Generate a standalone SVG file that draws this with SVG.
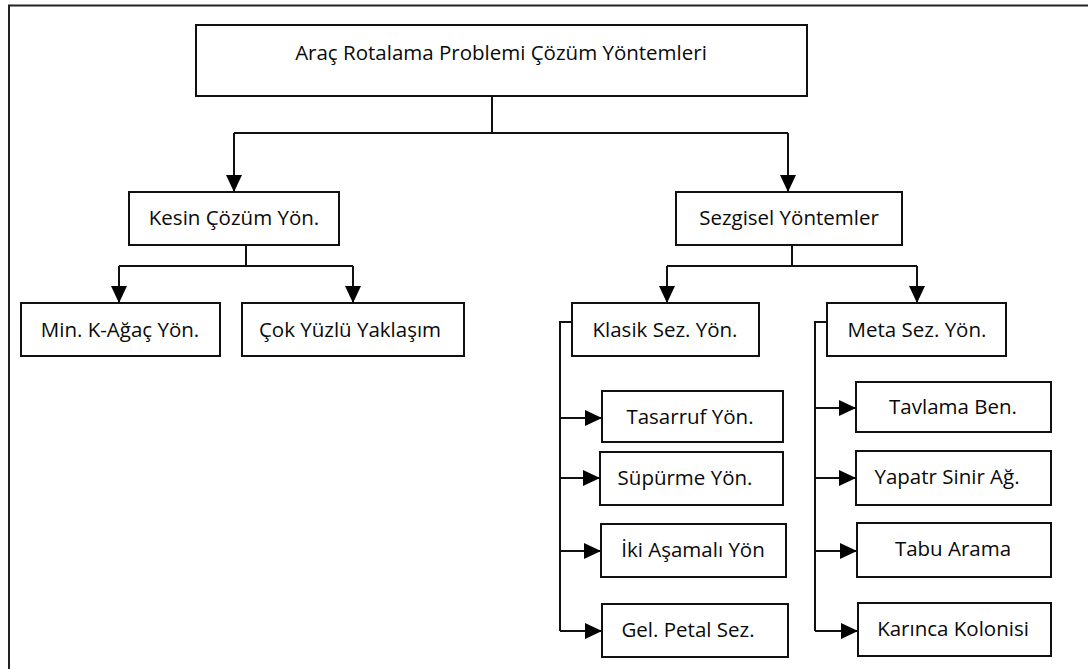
<svg xmlns="http://www.w3.org/2000/svg" width="1088" height="669" viewBox="0 0 1088 669">
<style>
.box{fill:#fff;stroke:#111;stroke-width:2}
.lbl{font-family:"Open Sans",Lato,sans-serif;font-size:20.5px;fill:#0a0a0a;text-anchor:middle}
.con{fill:none;stroke:#111;stroke-width:2}
</style>
<defs>
<marker id="ah" markerUnits="userSpaceOnUse" markerWidth="18" markerHeight="18" refX="17" refY="8" orient="auto">
<path d="M0,0 L17,8 L0,16 Z" fill="#000"/>
</marker>
</defs>
<rect width="1088" height="669" fill="#fff"/>
<path d="M9,669 V5.5 H1088" fill="none" stroke="#222" stroke-width="2"/>
<g id="connectors">
<path class="con" d="M492,96 V133 M234,133 H788"/>
<path class="con" d="M234,133 V192" marker-end="url(#ah)"/>
<path class="con" d="M788,133 V192" marker-end="url(#ah)"/>
<path class="con" d="M246,245 V266 M119,266 H353"/>
<path class="con" d="M119,266 V303" marker-end="url(#ah)"/>
<path class="con" d="M353,266 V303" marker-end="url(#ah)"/>
<path class="con" d="M792,245 V266 M667,266 H917"/>
<path class="con" d="M667,266 V303" marker-end="url(#ah)"/>
<path class="con" d="M917,266 V303" marker-end="url(#ah)"/>
<path class="con" d="M572,322 H560 V631"/>
<path class="con" d="M560,418 H602" marker-end="url(#ah)"/>
<path class="con" d="M560,478 H600" marker-end="url(#ah)"/>
<path class="con" d="M560,551 H601" marker-end="url(#ah)"/>
<path class="con" d="M560,631 H602" marker-end="url(#ah)"/>
<path class="con" d="M827,322 H815 V631"/>
<path class="con" d="M815,408 H856" marker-end="url(#ah)"/>
<path class="con" d="M815,478 H856" marker-end="url(#ah)"/>
<path class="con" d="M815,551 H857" marker-end="url(#ah)"/>
<path class="con" d="M815,631 H858" marker-end="url(#ah)"/>
</g>
<g id="root"><rect class="box" x="196" y="25" width="611" height="71"/><text class="lbl" x="501" y="60">Araç Rotalama Problemi Çözüm Yöntemleri</text></g>
<g id="kesin"><rect class="box" x="129" y="192" width="210" height="53"/><text class="lbl" x="234" y="225">Kesin Çözüm Yön.</text></g>
<g id="sezgisel"><rect class="box" x="676" y="192" width="226" height="53"/><text class="lbl" x="789" y="225">Sezgisel Yöntemler</text></g>
<g id="mink"><rect class="box" x="21" y="303" width="199" height="53"/><text class="lbl" x="120" y="337">Min. K-Ağaç Yön.</text></g>
<g id="cokyuzlu"><rect class="box" x="242" y="303" width="222" height="53"/><text class="lbl" x="350" y="337">Çok Yüzlü Yaklaşım</text></g>
<g id="klasik"><rect class="box" x="572" y="303" width="187" height="53"/><text class="lbl" x="665" y="337">Klasik Sez. Yön.</text></g>
<g id="meta"><rect class="box" x="827" y="303" width="179" height="53"/><text class="lbl" x="917" y="337">Meta Sez. Yön.</text></g>
<g id="tasarruf"><rect class="box" x="602" y="391" width="181" height="51"/><text class="lbl" x="690" y="424">Tasarruf Yön.</text></g>
<g id="supurme"><rect class="box" x="600" y="452" width="183" height="53"/><text class="lbl" x="685" y="485">Süpürme Yön.</text></g>
<g id="iki"><rect class="box" x="601" y="524" width="185" height="53"/><text class="lbl" x="693" y="557">İki Aşamalı Yön</text></g>
<g id="gel"><rect class="box" x="602" y="604" width="186" height="53"/><text class="lbl" x="688" y="637">Gel. Petal Sez.</text></g>
<g id="tavlama"><rect class="box" x="856" y="382" width="195" height="50"/><text class="lbl" x="953" y="414">Tavlama Ben.</text></g>
<g id="yapatr"><rect class="box" x="856" y="451" width="195" height="54"/><text class="lbl" x="947" y="484">Yapatr Sinir Ağ.</text></g>
<g id="tabu"><rect class="box" x="857" y="523" width="194" height="54"/><text class="lbl" x="953" y="556">Tabu Arama</text></g>
<g id="karinca"><rect class="box" x="858" y="603" width="193" height="53"/><text class="lbl" x="953" y="636">Karınca Kolonisi</text></g>
</svg>
